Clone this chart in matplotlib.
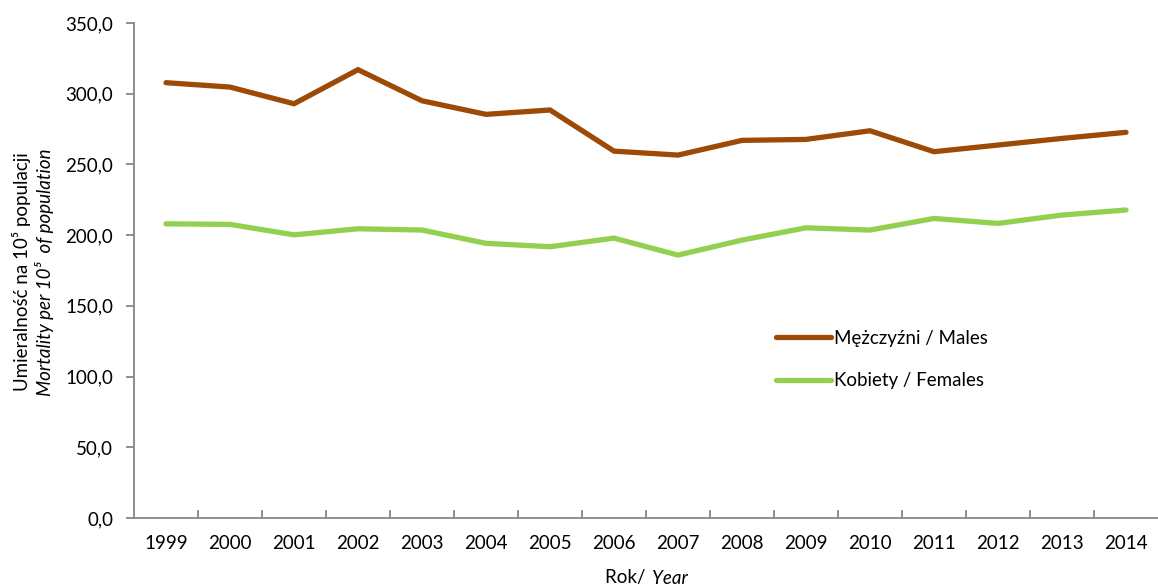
import numpy as np
import matplotlib
matplotlib.use("Agg")
import matplotlib.pyplot as plt
from matplotlib.ticker import FixedLocator, FuncFormatter

plt.rcParams['font.family'] = ['Lato', 'DejaVu Sans']

years = ["1999", "2000", "2001", "2002", "2003", "2004", "2005", "2006",
         "2007", "2008", "2009", "2010", "2011", "2012", "2013", "2014"]
males = [307.8, 304.7, 292.9, 317.0, 295.0, 285.4, 288.5, 259.4,
         256.6, 267.0, 267.7, 273.8, 259.0, 263.7, 268.4, 272.7]
females = [208.0, 207.6, 200.2, 204.5, 203.6, 194.2, 191.8, 197.9,
           185.9, 196.5, 205.2, 203.6, 211.8, 208.3, 214.2, 217.8]

W, H = 1158, 588
FS = 13.5
fig = plt.figure(figsize=(W / 100, H / 100), dpi=100)
ax = fig.add_axes([134 / W, 1 - 518 / H, 1 - 134 / W, (518 - 23) / H])

x = np.arange(len(years))
ax.plot(x, males, color="#9C4A06", lw=3.8, solid_capstyle="round",
        solid_joinstyle="miter", label="Mężczyźni / Males")
ax.plot(x, females, color="#92D050", lw=3.8, solid_capstyle="round",
        solid_joinstyle="miter", label="Kobiety / Females")

ax.set_xlim(-0.5, len(years) - 0.5)
ax.set_ylim(0, 350)

# axes look
gray = "#868686"
for s in ["top", "right"]:
    ax.spines[s].set_visible(False)
for s in ["left", "bottom"]:
    ax.spines[s].set_color(gray)
    ax.spines[s].set_linewidth(1.3)

ax.set_yticks(np.arange(0, 351, 50))
ax.yaxis.set_major_formatter(FuncFormatter(lambda v, p: f"{v:.1f}".replace(".", ",")))
ax.tick_params(axis="y", direction="out", length=6, width=1.3, color=gray,
               labelsize=FS, pad=9)

ax.set_xticks(x)
ax.set_xticklabels(years)
ax.tick_params(axis="x", which="major", length=0, labelsize=FS, pad=12)
ax.xaxis.set_minor_locator(FixedLocator(x[:-1] + 0.5))
ax.tick_params(axis="x", which="minor", direction="in", length=6, width=1.3, color=gray)

# y label, two lines
fig.text(22 / W, 1 - 272 / H, "Umieralność na 10⁵ populacji", rotation=90,
         ha="center", va="center", fontsize=FS)
fig.text(45 / W, 1 - 272 / H, "Mortality per 10⁵  of population", rotation=90,
         ha="center", va="center", fontsize=FS, style="italic")

# x label
fig.text(650 / W, 1 - 578 / H, "Rok/ ", ha="right", va="center", fontsize=FS)
fig.text(652 / W, 1 - 578 / H, "Year", ha="left", va="center", fontsize=FS,
         style="italic")

ax.legend(loc="upper left", bbox_to_anchor=(776 / W, 1 - 330 / H),
          bbox_transform=fig.transFigure, frameon=False, fontsize=FS,
          handlelength=2.95, handletextpad=0.15, labelspacing=1.35,
          borderpad=0, borderaxespad=0)

fig.savefig("out.png", dpi=100)
